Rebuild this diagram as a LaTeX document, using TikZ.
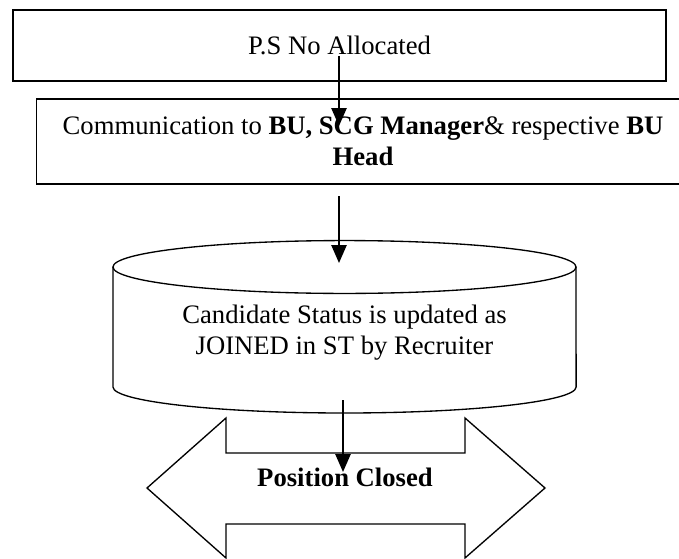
\documentclass[tikz,border=0pt]{standalone}
\usepackage{fontspec}
\setmainfont{Liberation Serif}
\usetikzlibrary{arrows.meta}

\begin{document}
\begin{tikzpicture}[x=0.45pt,y=-0.45pt,
  font=\fontsize{12}{14}\selectfont,
  box/.style={draw,line width=0.8pt,minimum width=293.9pt,minimum height=32pt,
              align=center,inner sep=0pt},
  flow/.style={-{Triangle[length=8pt,width=6.8pt]},line width=0.7pt},
  outline/.style={line width=0.6pt}]
\useasboundingbox (0,0) rectangle (679,559);

\node[box] (ps) at (339.5,45.5) {P.S No Allocated};
\node[box,minimum height=38.25pt] (com) at (363,141.5)
  {Communication to \textbf{BU, SCG Manager}\& respective \textbf{BU}\\ \textbf{Head}};

% storage drum
\draw[outline] (113,267) -- (113,387)
  arc[start angle=180,end angle=360,x radius=104.2pt,y radius=11.7pt] -- (576,267);
\draw[outline] (344.5,267) ellipse[x radius=104.2pt,y radius=11.9pt];
\node[align=center] (st) at (344.5,333)
  {Candidate Status is updated as\\ JOINED in ST by Recruiter};

% two-headed block arrow
\draw[outline] (147,488) -- (226,418) -- (226,453) -- (465,453) -- (465,418)
  -- (545,488) -- (465,558) -- (465,524) -- (226,524) -- (226,558) -- cycle;
\node (pc) at (345,477) {\textbf{Position Closed}};

\coordinate (a1) at (339,56);  \coordinate (b1) at (339,126);
\coordinate (a2) at (339,196); \coordinate (b2) at (339,263);
\coordinate (a3) at (343,400); \coordinate (b3) at (343,472);
\draw[flow] (a1) -- (b1);
\draw[flow] (a2) -- (b2);
\draw[flow] (a3) -- (b3);
\end{tikzpicture}
\end{document}
